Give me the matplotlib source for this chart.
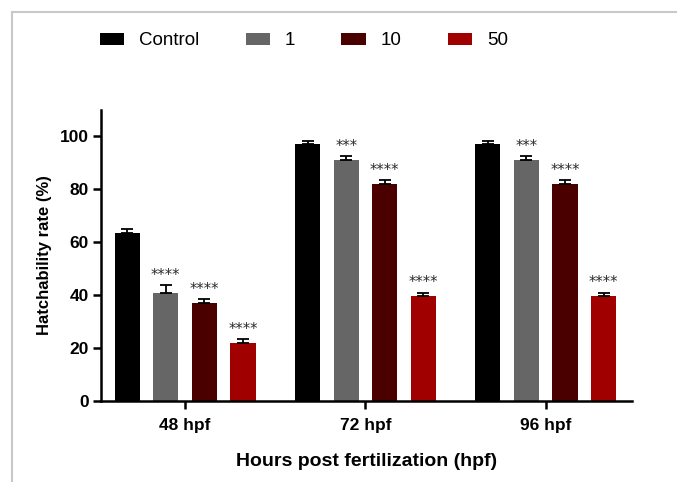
import numpy as np
import matplotlib
matplotlib.use("Agg")
import matplotlib.pyplot as plt
from matplotlib.lines import Line2D

# Datos
grupos = ["48 hpf", "72 hpf", "96 hpf"]
series = ["Control", "1", "10", "50"]
colores = ["#000000", "#666666", "#4b0000", "#a00000"]

control = [63.5, 97.0, 97.0]
dosis_1 = [41.0, 91.0, 91.0]
dosis_10 = [37.0, 82.0, 82.0]
dosis_50 = [22.0, 39.5, 39.5]
valores = [control, dosis_1, dosis_10, dosis_50]

err_control = [1.5, 1.3, 1.3]
err_1 = [2.8, 1.5, 1.5]
err_10 = [1.5, 1.5, 1.5]
err_50 = [1.5, 1.5, 1.5]
errores = [err_control, err_1, err_10, err_50]

sig_control = ["", "", ""]
sig_1 = ["****", "***", "***"]
sig_10 = ["****", "****", "****"]
sig_50 = ["****", "****", "****"]
significancia = [sig_control, sig_1, sig_10, sig_50]

plt.rcParams["font.family"] = ["Liberation Sans", "DejaVu Sans"]

fig = plt.figure(figsize=(6.77, 4.82), dpi=100)
ax = fig.add_axes([0.149, 0.168, 0.785, 0.604])

x = np.arange(len(grupos))
paso = 0.214
ancho = 0.14
handles = []
for i, (vals, errs, sigs) in enumerate(zip(valores, errores, significancia)):
    pos = x + (i - 1.5) * paso
    b = ax.bar(pos, vals, width=ancho, color=colores[i], label=series[i], zorder=2)
    handles.append(b)
    ax.errorbar(pos, vals, yerr=[np.zeros(len(vals)), errs], fmt="none",
                ecolor="black", elinewidth=1.3, capsize=4.5, capthick=1.3, zorder=3)
    for p, v, e, s in zip(pos, vals, errs, sigs):
        if s:
            ax.annotate(s, (p, v + e), xytext=(0, 7), textcoords="offset points",
                        ha="center", va="center", fontsize=10.5, color="#2a2a2a",
                        family="DejaVu Sans")

ax.set_xlim(-0.467, 2.48)
ax.set_ylim(0, 110)
ax.set_yticks([0, 20, 40, 60, 80, 100])
ax.set_xticks(x)
ax.set_xticklabels(grupos)
for lab in ax.get_xticklabels() + ax.get_yticklabels():
    lab.set_fontweight("bold")
    lab.set_fontsize(12.5)

ax.spines["top"].set_visible(False)
ax.spines["right"].set_visible(False)
ax.spines["left"].set_linewidth(1.8)
ax.spines["bottom"].set_linewidth(1.8)
ax.tick_params(axis="both", width=1.8, length=5.5, direction="out", pad=3)
ax.tick_params(axis="x", pad=7)

ax.set_ylabel("Hatchability rate (%)", fontsize=12, fontweight="bold", labelpad=6)
ax.set_xlabel("Hours post fertilization (hpf)", fontsize=14, fontweight="bold", labelpad=14)

fig.legend(handles=handles, labels=series, loc="center left",
           bbox_to_anchor=(0.134, 0.915), ncol=4, frameon=False,
           fontsize=13.5, handlelength=1.3, handleheight=0.6,
           handletextpad=0.8, columnspacing=2.45, borderpad=0)

# marco gris de la imagen original
fig.add_artist(Line2D([0.017, 1.0], [0.976, 0.976], color="#c8c8c8", lw=1.5))
fig.add_artist(Line2D([0.018, 0.018], [0.0, 0.976], color="#c8c8c8", lw=1.5))

fig.savefig("out.png", dpi=100)
